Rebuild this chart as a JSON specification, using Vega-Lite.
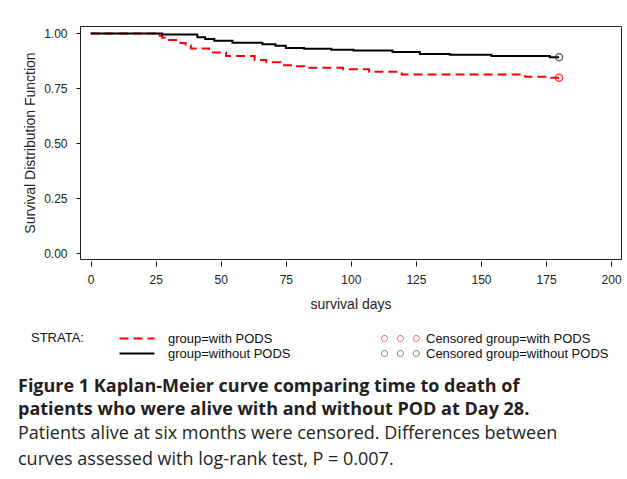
{
  "$schema": "https://vega.github.io/schema/vega-lite/v6.json",
  "width": 541,
  "height": 233,
  "autosize": "none",
  "padding": {"left": 80, "top": 26, "right": 6, "bottom": 220},
  "background": "white",
  "config": {
    "view": {"stroke": "#222", "strokeWidth": 1},
    "font": "Liberation Sans"
  },
  "title": {
    "text": ["Figure 1 Kaplan-Meier curve comparing time to death of", "patients who were alive with and without POD at Day 28."],
    "subtitle": ["Patients alive at six months were censored. Differences between", "curves assessed with log-rank test, P = 0.007."],
    "orient": "bottom",
    "anchor": "start",
    "frame": "group",
    "dx": -62,
    "offset": 17,
    "font": "Open Sans",
    "fontSize": 18,
    "fontWeight": "bold",
    "lineHeight": 23,
    "color": "#231f20",
    "subtitleFont": "Open Sans",
    "subtitleFontSize": 18,
    "subtitleFontWeight": "normal",
    "subtitleLineHeight": 26,
    "subtitleColor": "#231f20",
    "subtitlePadding": 6
  },
  "datasets": {
    "km": [
      {"day": 0, "surv": 1.0, "group": "group=with PODS"},
      {"day": 26.5, "surv": 0.99, "group": "group=with PODS"},
      {"day": 27.5, "surv": 0.98, "group": "group=with PODS"},
      {"day": 28.5, "surv": 0.97, "group": "group=with PODS"},
      {"day": 34.5, "surv": 0.957, "group": "group=with PODS"},
      {"day": 36.5, "surv": 0.945, "group": "group=with PODS"},
      {"day": 38.5, "surv": 0.932, "group": "group=with PODS"},
      {"day": 45.5, "surv": 0.914, "group": "group=with PODS"},
      {"day": 52, "surv": 0.897, "group": "group=with PODS"},
      {"day": 63, "surv": 0.879, "group": "group=with PODS"},
      {"day": 67.5, "surv": 0.869, "group": "group=with PODS"},
      {"day": 73, "surv": 0.856, "group": "group=with PODS"},
      {"day": 77.5, "surv": 0.851, "group": "group=with PODS"},
      {"day": 82, "surv": 0.844, "group": "group=with PODS"},
      {"day": 97, "surv": 0.837, "group": "group=with PODS"},
      {"day": 107, "surv": 0.826, "group": "group=with PODS"},
      {"day": 119.5, "surv": 0.813, "group": "group=with PODS"},
      {"day": 167, "surv": 0.803, "group": "group=with PODS"},
      {"day": 177, "surv": 0.799, "group": "group=with PODS"},
      {"day": 180, "surv": 0.799, "group": "group=with PODS"},
      {"day": 0, "surv": 1.0, "group": "group=without PODS"},
      {"day": 27.5, "surv": 0.995, "group": "group=without PODS"},
      {"day": 41, "surv": 0.983, "group": "group=without PODS"},
      {"day": 44, "surv": 0.975, "group": "group=without PODS"},
      {"day": 47.5, "surv": 0.967, "group": "group=without PODS"},
      {"day": 54.5, "surv": 0.958, "group": "group=without PODS"},
      {"day": 66, "surv": 0.951, "group": "group=without PODS"},
      {"day": 71, "surv": 0.944, "group": "group=without PODS"},
      {"day": 75, "surv": 0.934, "group": "group=without PODS"},
      {"day": 82, "surv": 0.931, "group": "group=without PODS"},
      {"day": 92.5, "surv": 0.926, "group": "group=without PODS"},
      {"day": 101, "surv": 0.923, "group": "group=without PODS"},
      {"day": 116, "surv": 0.916, "group": "group=without PODS"},
      {"day": 126.5, "surv": 0.907, "group": "group=without PODS"},
      {"day": 138, "surv": 0.903, "group": "group=without PODS"},
      {"day": 154, "surv": 0.897, "group": "group=without PODS"},
      {"day": 176.5, "surv": 0.892, "group": "group=without PODS"},
      {"day": 180, "surv": 0.892, "group": "group=without PODS"}
    ],
    "censored": [
      {"day": 180, "surv": 0.799, "cgroup": "Censored group=with PODS"},
      {"day": 180, "surv": 0.892, "cgroup": "Censored group=without PODS"}
    ]
  },
  "encoding": {
    "x": {
      "field": "day", "type": "quantitative",
      "scale": {"domain": [-4.1, 203.8], "nice": false, "zero": false},
      "axis": {
        "title": "survival days",
        "values": [0, 25, 50, 75, 100, 125, 150, 175, 200],
        "domain": false, "grid": false, "offset": 2,
        "tickSize": 5, "tickColor": "#111",
        "labelFont": "Liberation Sans", "labelFontSize": 12, "labelColor": "#222", "labelPadding": 8,
        "titleFont": "Liberation Sans", "titleFontSize": 14, "titleFontWeight": "normal", "titleColor": "#222", "titlePadding": 12
      }
    },
    "y": {
      "field": "surv", "type": "quantitative",
      "scale": {"domain": [-0.026, 1.034], "nice": false, "zero": false},
      "axis": {
        "title": "Survival Distribution Function",
        "values": [0, 0.25, 0.5, 0.75, 1], "format": ".2f",
        "domain": false, "grid": false,
        "tickSize": 4, "tickColor": "#111",
        "labelFont": "Liberation Sans", "labelFontSize": 12, "labelColor": "#222", "labelPadding": 9,
        "titleFont": "Liberation Sans", "titleFontSize": 14, "titleFontWeight": "normal", "titleColor": "#222", "titlePadding": 6
      }
    }
  },
  "layer": [
    {
      "data": {"name": "km"},
      "mark": {"type": "line", "interpolate": "step-after", "strokeWidth": 2},
      "encoding": {
        "color": {
          "field": "group", "type": "nominal",
          "scale": {"domain": ["group=with PODS", "group=without PODS"], "range": ["#ff0000", "#000000"]},
          "legend": {
            "orient": "none", "legendX": -49, "legendY": 306,
            "title": "STRATA:", "titleOrient": "left", "titleAnchor": "start", "titleBaseline": "top",
            "titleFont": "Liberation Sans", "titleFontSize": 13, "titleFontWeight": "normal", "titleColor": "#111", "titlePadding": 34,
            "labelFont": "Liberation Sans", "labelFontSize": 13, "labelColor": "#111", "labelOffset": 37, "labelLimit": 0,
            "symbolType": "M-1,0L6,0", "symbolSize": 100, "symbolStrokeWidth": 2, "rowPadding": 1
          }
        },
        "strokeDash": {
          "field": "group", "type": "nominal",
          "scale": {"domain": ["group=with PODS", "group=without PODS"], "range": [[9, 5], [1, 0]]},
          "legend": {
            "orient": "none", "legendX": -49, "legendY": 306,
            "title": "STRATA:", "titleOrient": "left", "titleAnchor": "start", "titleBaseline": "top",
            "titleFont": "Liberation Sans", "titleFontSize": 13, "titleFontWeight": "normal", "titleColor": "#111", "titlePadding": 34,
            "labelFont": "Liberation Sans", "labelFontSize": 13, "labelColor": "#111", "labelOffset": 37, "labelLimit": 0,
            "symbolType": "M-1,0L6,0", "symbolSize": 100, "symbolStrokeWidth": 2, "rowPadding": 1
          }
        }
      }
    },
    {
      "data": {"name": "censored"},
      "mark": {"type": "point", "shape": "circle", "filled": false, "size": 49, "strokeWidth": 1.5},
      "encoding": {
        "stroke": {
          "field": "cgroup", "type": "nominal",
          "scale": {"domain": ["Censored group=with PODS", "Censored group=without PODS"], "range": ["#ff0000", "#333333"]},
          "legend": {
            "orient": "none", "legendX": 298, "legendY": 306,
            "title": null,
            "labelFont": "Liberation Sans", "labelFontSize": 13, "labelColor": "#111", "labelOffset": 35, "labelLimit": 0,
            "symbolType": "M-1,0a1,1 0 1,0 2,0a1,1 0 1,0 -2,0M4.3,0a1,1 0 1,0 2,0a1,1 0 1,0 -2,0M9.6,0a1,1 0 1,0 2,0a1,1 0 1,0 -2,0",
            "symbolSize": 36, "symbolStrokeWidth": 1, "symbolFillColor": "transparent", "rowPadding": 1
          }
        }
      }
    }
  ]
}
